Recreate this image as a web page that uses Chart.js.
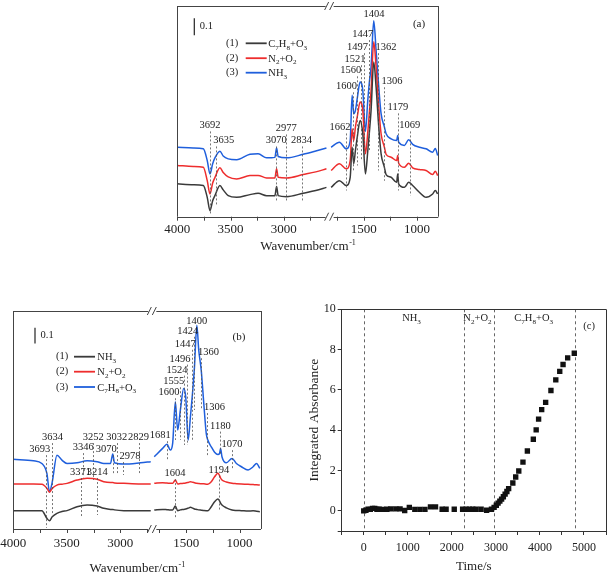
<!DOCTYPE html>
<html>
<head>
<meta charset="utf-8">
<script src="https://cdn.jsdelivr.net/npm/chart.js@4.4.0/dist/chart.umd.min.js"></script>
<style>
  body { margin: 0; background: #fff; width: 610px; height: 575px; position: relative; overflow: hidden; }
  canvas { position: absolute; }
</style>
</head>
<body>
<!-- each spectrum panel = two charts on top of each other, one per side of the axis break -->
<canvas id="chartA1" width="330" height="262" style="left:130px;top:0px"></canvas>
<canvas id="chartA2" width="330" height="262" style="left:130px;top:0px"></canvas>
<canvas id="chartB1" width="275" height="275" style="left:0px;top:300px"></canvas>
<canvas id="chartB2" width="275" height="275" style="left:0px;top:300px"></canvas>
<canvas id="chartC" width="325" height="275" style="left:285px;top:300px"></canvas>
<script>
// ---------- panel (a): spectra, broken wavenumber axis ----------
const aWnLeft  = [4000, 3850, 3756, 3719, 3693, 3668, 3647, 3600, 3569, 3522, 3443, 3318, 3241, 3162, 3084, 3068, 3053, 2974, 2819, 2700, 2600];
const aBlackLeft = [0.195, 0.190, 0.185, 0.115, 0.036, 0.095, 0.125, 0.185, 0.159, 0.125, 0.115, 0.131, 0.139, 0.125, 0.125, 0.179, 0.125, 0.119, 0.139, 0.155, 0.174];
const aRedLeft   = [0.304, 0.298, 0.293, 0.214, 0.135, 0.200, 0.232, 0.290, 0.262, 0.236, 0.224, 0.244, 0.245, 0.230, 0.230, 0.284, 0.234, 0.230, 0.250, 0.266, 0.284];
const aBlueLeft  = [0.412, 0.408, 0.403, 0.333, 0.254, 0.314, 0.349, 0.389, 0.360, 0.343, 0.338, 0.370, 0.373, 0.349, 0.352, 0.408, 0.357, 0.349, 0.370, 0.390, 0.408];

const aWnRight = [1806, 1728, 1665, 1627, 1609, 1594, 1578, 1559, 1534, 1509, 1484, 1462, 1447, 1431, 1406, 1384,
                  1359, 1337, 1306, 1290, 1243, 1191, 1181, 1172, 1118, 1078, 1041, 978, 915, 853, 828, 806];
const aBlackRight = [0.174, 0.214, 0.185, 0.234, 0.412, 0.314, 0.393, 0.480, 0.571, 0.492, 0.254, 0.390, 0.500, 0.631, 0.918, 0.770,
                     0.532, 0.373, 0.293, 0.250, 0.234, 0.204, 0.254, 0.195, 0.174, 0.204, 0.185, 0.145, 0.115, 0.135, 0.155, 0.135];
const aRedRight   = [0.274, 0.314, 0.284, 0.333, 0.522, 0.452, 0.532, 0.600, 0.680, 0.631, 0.373, 0.500, 0.620, 0.750, 1.038, 0.889,
                     0.651, 0.492, 0.412, 0.370, 0.353, 0.333, 0.363, 0.317, 0.293, 0.317, 0.290, 0.280, 0.274, 0.250, 0.270, 0.244];
const aBlueRight  = [0.412, 0.442, 0.403, 0.452, 0.720, 0.611, 0.631, 0.710, 0.799, 0.750, 0.506, 0.690, 0.799, 0.889, 1.162, 0.988,
                     0.770, 0.611, 0.532, 0.492, 0.462, 0.452, 0.482, 0.442, 0.423, 0.457, 0.429, 0.412, 0.403, 0.383, 0.405, 0.363];

// [wavenumber label, dashed line top, dashed line bottom (absorbance units), label side]
const aPeaks = [
  [3692, 0.506, 0.018, 'c'], [3635, 0.417, 0.065, 'l'], [3070, 0.417, 0.095, 'c'],
  [2977, 0.488, 0.095, 'c'], [2834, 0.417, 0.095, 'c'], [1662, 0.494, 0.155, 'r'],
  [1600, 0.738, 0.274, 'r'], [1560, 0.833, 0.304, 'r'], [1521, 0.899, 0.333, 'r'],
  [1497, 0.970, 0.333, 'r'], [1447, 1.048, 0.393, 'r'], [1404, 1.167, 1.167, 'c'],
  [1362, 0.970, 0.274, 'l'], [1306, 0.768, 0.214, 'l'], [1179, 0.613, 0.155, 'c'],
  [1069, 0.506, 0.125, 'c']
];
const aNames = ['C7H8+O3', 'N2+O2', 'NH3'];

// ---------- panel (b) ----------
const bWnLeft = [4000, 3812, 3733, 3686, 3662, 3636, 3592, 3545, 3498, 3404, 3310, 3216, 3154, 3091, 3070, 3054, 2966, 2809, 2715];
const bBlackLeft = [0.117, 0.117, 0.117, 0.068, 0.053, 0.078, 0.100, 0.112, 0.117, 0.142, 0.153, 0.146, 0.132, 0.125, 0.125, 0.122, 0.117, 0.117, 0.117];
const bRedLeft   = [0.287, 0.287, 0.285, 0.260, 0.235, 0.259, 0.280, 0.286, 0.291, 0.312, 0.323, 0.317, 0.301, 0.296, 0.296, 0.294, 0.291, 0.287, 0.287];
const bBlueLeft  = [0.444, 0.435, 0.418, 0.355, 0.238, 0.299, 0.471, 0.439, 0.418, 0.422, 0.435, 0.429, 0.418, 0.418, 0.478, 0.422, 0.414, 0.422, 0.429];

const bWnRight = [1798, 1720, 1679, 1648, 1626, 1601, 1579, 1554, 1523, 1504, 1481, 1460, 1438, 1422, 1400, 1382, 1359,
                  1335, 1312, 1297, 1265, 1234, 1203, 1187, 1178, 1165, 1124, 1071, 1030, 983, 921, 874, 842, 811];
const bBlackRight = [0.121, 0.125, 0.123, 0.121, 0.121, 0.146, 0.117, 0.122, 0.125, 0.128, 0.133, 0.138, 0.133, 0.128, 0.125, 0.122, 0.120,
                     0.118, 0.117, 0.117, 0.142, 0.174, 0.191, 0.178, 0.165, 0.153, 0.135, 0.121, 0.118, 0.117, 0.115, 0.116, 0.113, 0.110];
const bRedRight   = [0.291, 0.295, 0.293, 0.291, 0.291, 0.312, 0.287, 0.290, 0.291, 0.293, 0.297, 0.301, 0.298, 0.295, 0.291, 0.290, 0.289,
                     0.288, 0.286, 0.285, 0.301, 0.333, 0.355, 0.340, 0.325, 0.312, 0.300, 0.291, 0.289, 0.287, 0.285, 0.283, 0.282, 0.280];
const bBlueRight  = [0.461, 0.514, 0.541, 0.503, 0.546, 0.811, 0.631, 0.758, 0.896, 0.843, 0.567, 0.715, 0.885, 1.034, 1.299, 1.140, 1.013,
                     0.801, 0.610, 0.567, 0.524, 0.490, 0.475, 0.482, 0.514, 0.461, 0.422, 0.450, 0.418, 0.397, 0.376, 0.397, 0.418, 0.387];

const bPeaks = [
  [3693, 0.471, 0.006, 'r'], [3634, 0.548, 0.089, 'c'], [3346, 0.484, 0.330, 'c'],
  [3252, 0.548, 0.312, 'c'], [3070, 0.471, 0.344, 'r'], [3032, 0.548, 0.344, 'c'],
  [2978, 0.427, 0.344, 'l'], [2829, 0.548, 0.344, 'c'], [3371, 0.325, 0.070, 'c'],
  [3214, 0.325, 0.089, 'c'], [1681, 0.560, 0.440, 'r'], [1600, 0.834, 0.567, 'r'],
  [1555, 0.904, 0.567, 'r'], [1524, 0.978, 0.535, 'r'], [1496, 1.048, 0.535, 'r'],
  [1447, 1.143, 0.567, 'r'], [1424, 1.226, 0.758, 'r'], [1400, 1.290, 1.290, 'c'],
  [1360, 1.089, 0.758, 'l'], [1306, 0.739, 0.471, 'l'], [1180, 0.621, 0.471, 'c'],
  [1070, 0.503, 0.376, 'c'], [1604, 0.318, 0.070, 'c'], [1194, 0.341, 0.121, 'c']
];
const bNames = ['NH3', 'N2+O2', 'C7H8+O3'];

// wavenumber axis ticks (both spectrum panels)
const wnTickLabels = [4000, 3500, 3000, 1500, 1000];
const wnMinorTicks = [3750, 3250, 2750, 1750, 1250];

// ---------- panel (c): integrated absorbance vs time ----------
const cTime = [0, 50, 100, 150, 200, 250, 300, 350, 430, 525, 615, 730, 825, 930, 1035, 1160, 1275, 1390, 1515, 1630,
               1780, 1870, 2055, 2245, 2325, 2400, 2475, 2550, 2665, 2790, 2900, 2960, 3010, 3050, 3090, 3130, 3170,
               3210, 3250, 3290, 3385, 3450, 3520, 3615, 3715, 3850, 3915, 3970, 4040, 4130, 4250, 4360, 4450, 4525, 4630, 4780];
const cAbs = [0.00, 0.03, 0.08, 0.07, 0.12, 0.12, 0.08, 0.08, 0.07, 0.08, 0.10, 0.10, 0.10, 0.02, 0.17, 0.07, 0.07, 0.07, 0.20, 0.20,
              0.08, 0.08, 0.08, 0.08, 0.08, 0.08, 0.08, 0.08, 0.08, 0.03, 0.08, 0.17, 0.28, 0.38, 0.48, 0.58, 0.70,
              0.83, 0.96, 1.10, 1.38, 1.68, 1.98, 2.42, 2.97, 3.55, 4.02, 4.55, 5.02, 5.38, 5.97, 6.50, 6.92, 7.26, 7.59, 7.82];
const cStageEdges = [0, 2270, 2950, 4800];
const cStageNames = ['NH3', 'N2+O2', 'C7H8+O3'];
const cStageLabelX = [1085, 2582, 3858];

const FONT = '"Liberation Serif", "Times New Roman", serif';
const BLACK = '#3a3a3a', RED = '#ee2d2d', BLUE = '#1f5fdc';

const crisp = v => Math.round(v) + 0.5;

// draw a formula like C7H8+O3 with the digits as subscripts
function drawChem(ctx, text, x, baseline, size, align) {
  const big = `${size}px ${FONT}`, small = `${size * 0.68}px ${FONT}`;
  const parts = [...text].map((ch, i) => ({ ch, sub: /\d/.test(ch) && i > 0 && /[A-Za-z]/.test(text[i - 1]) }));
  let w = 0;
  parts.forEach(p => { ctx.font = p.sub ? small : big; w += ctx.measureText(p.ch).width; });
  let cx = align === 'center' ? x - w / 2 : align === 'right' ? x - w : x;
  ctx.textAlign = 'left';
  ctx.textBaseline = 'alphabetic';
  parts.forEach(p => {
    ctx.font = p.sub ? small : big;
    ctx.fillText(p.ch, cx, baseline + (p.sub ? size * 0.25 : 0));
    cx += ctx.measureText(p.ch).width;
  });
}

function drawWavenumberTitle(ctx, cx, cy, size) {
  const base = 'Wavenumber/cm', sup = '-1';
  ctx.font = `${size}px ${FONT}`;
  const wb = ctx.measureText(base).width;
  ctx.font = `${size * 0.62}px ${FONT}`;
  const ws = ctx.measureText(sup).width;
  const x = cx - (wb + ws) / 2, by = cy + size * 0.33;
  ctx.textAlign = 'left';
  ctx.textBaseline = 'alphabetic';
  ctx.fillStyle = '#222';
  ctx.font = `${size}px ${FONT}`;
  ctx.fillText(base, x, by);
  ctx.font = `${size * 0.62}px ${FONT}`;
  ctx.fillText(sup, x + wb + 0.5, by - size * 0.42);
}

function toPoints(xs, ys) {
  return xs.map((x, i) => ({ x, y: ys[i] }));
}

// frame pieces, ticks, break marks, peak markers, legend and titles of one side of a spectrum panel
function makeDecor(cfg, side) {
  const isLeft = side === 'left';
  return {
    id: 'decor',
    afterDatasetsDraw(chart) {
      const { ctx, scales: { x, y } } = chart;
      ctx.save();
      ctx.strokeStyle = '#555';
      ctx.lineWidth = 0.8;
      ctx.fillStyle = '#222';
      ctx.font = `10.5px ${FONT}`;
      ctx.textBaseline = 'alphabetic';
      cfg.peaks.filter(p => (p[0] > cfg.rightRange[1]) === isLeft).forEach(([wn, top, bottom, align]) => {
        const px = x.getPixelForValue(wn);
        const yt = y.getPixelForValue(top), yb = y.getPixelForValue(bottom);
        if (yb - yt > 1) {
          ctx.setLineDash([2, 2]);
          ctx.beginPath();
          ctx.moveTo(crisp(px), yt);
          ctx.lineTo(crisp(px), yb);
          ctx.stroke();
        }
        ctx.textAlign = align === 'r' ? 'right' : align === 'l' ? 'left' : 'center';
        const tx = align === 'r' ? px + 4 : align === 'l' ? px - 3 : px;
        ctx.fillText(String(wn), tx, yt - 3);
      });
      ctx.restore();
    },
    afterDraw(chart) {
      const { ctx, chartArea: a, scales: { x, y } } = chart;
      const L = cfg.legend;
      ctx.save();
      ctx.strokeStyle = '#444';
      ctx.lineWidth = 1;
      ctx.beginPath();
      if (isLeft) {
        ctx.moveTo(crisp(a.left), a.top); ctx.lineTo(crisp(a.left), a.bottom);
        [a.top, a.bottom].forEach(yy => { ctx.moveTo(a.left, crisp(yy)); ctx.lineTo(a.right - 4, crisp(yy)); });
      } else {
        ctx.moveTo(crisp(a.right), a.top); ctx.lineTo(crisp(a.right), a.bottom);
        [a.top, a.bottom].forEach(yy => { ctx.moveTo(a.left + 4, crisp(yy)); ctx.lineTo(a.right, crisp(yy)); });
      }
      // tick marks on the wavenumber axis
      const inRange = v => v >= x.min && v <= x.max;
      wnTickLabels.concat(wnMinorTicks).filter(inRange).forEach(v => {
        const px = crisp(x.getPixelForValue(v));
        ctx.moveTo(px, a.bottom);
        ctx.lineTo(px, a.bottom + 4);
      });
      ctx.stroke();
      ctx.fillStyle = '#222';
      ctx.font = `13px ${FONT}`;
      ctx.textAlign = 'center';
      ctx.textBaseline = 'middle';
      wnTickLabels.filter(inRange).forEach(v => {
        ctx.fillText(String(v), x.getPixelForValue(v), a.bottom + 4 + cfg.tickPad + 7.8);
      });

      if (!isLeft) {
        // break marks "//" on the top and bottom edges
        const bx = a.left;
        ctx.beginPath();
        [a.top, a.bottom].forEach(yy => {
          [-3, 2].forEach(d => {
            ctx.moveTo(bx + d - 2, yy + 4);
            ctx.lineTo(bx + d + 2, yy - 4);
          });
        });
        ctx.stroke();
        ctx.font = `11px ${FONT}`;
        ctx.fillText(cfg.letter, L.letterX, L.letterY);
        ctx.restore();
        return;
      }

      // legend
      cfg.curves.forEach((c, i) => {
        const cy = L.rows[i];
        ctx.fillStyle = '#222';
        ctx.font = `10.5px ${FONT}`;
        ctx.textAlign = 'center';
        ctx.textBaseline = 'middle';
        ctx.fillText(`(${i + 1})`, L.tagX, cy);
        ctx.strokeStyle = c.color;
        ctx.lineWidth = 1.8;
        ctx.beginPath();
        ctx.moveTo(L.line0, cy);
        ctx.lineTo(L.line1, cy);
        ctx.stroke();
        ctx.fillStyle = '#222';
        drawChem(ctx, c.name, L.textX, cy + 3.6, 10.5, 'left');
      });

      // 0.1 absorbance scale bar
      const barLen = y.getPixelForValue(0) - y.getPixelForValue(0.1);
      ctx.strokeStyle = '#222';
      ctx.lineWidth = 1.2;
      ctx.beginPath();
      ctx.moveTo(L.barX, L.barTop);
      ctx.lineTo(L.barX, L.barTop + barLen);
      ctx.stroke();
      ctx.fillStyle = '#222';
      ctx.font = `10.5px ${FONT}`;
      ctx.textAlign = 'left';
      ctx.textBaseline = 'middle';
      ctx.fillText('0.1', L.barX + 5.5, L.barTop + barLen / 2);

      drawWavenumberTitle(ctx, (cfg.area.left + cfg.area.right) / 2, cfg.titleY, 13);
      ctx.restore();
    }
  };
}

function spectrumPanel(ids, cfg) {
  const wL = cfg.leftRange[1] - cfg.leftRange[0];
  const wR = cfg.rightRange[1] - cfg.rightRange[0];
  const breakX = cfg.area.left + (cfg.area.right - cfg.area.left) * wL / (wL + wR);
  const sides = [
    { side: 'left', range: cfg.leftRange, wn: cfg.wnLeft, pad: { left: cfg.area.left, right: cfg.width - breakX } },
    { side: 'right', range: cfg.rightRange, wn: cfg.wnRight, pad: { left: breakX, right: cfg.width - cfg.area.right } }
  ];
  sides.forEach((s, k) => {
    const datasets = cfg.curves.map(c => ({
      data: toPoints(s.wn, c[s.side]),
      borderColor: c.color,
      borderWidth: 1.5,
      pointRadius: 0,
      cubicInterpolationMode: 'monotone'
    }));
    new Chart(document.getElementById(ids[k]), {
      type: 'line',
      data: { datasets },
      options: {
        responsive: false,
        animation: false,
        events: [],
        layout: { padding: { left: s.pad.left, right: s.pad.right, top: cfg.area.top, bottom: 0 } },
        plugins: { legend: { display: false }, tooltip: { enabled: false } },
        scales: {
          x: {
            type: 'linear',
            min: s.range[0],
            max: s.range[1],
            reverse: true,
            border: { display: false },
            grid: { display: false },
            ticks: { display: false },
            afterFit: sc => { sc.height = cfg.height - cfg.area.bottom; sc.paddingLeft = 0; sc.paddingRight = 0; }
          },
          y: { display: false, min: 0, max: cfg.yMax }
        }
      },
      plugins: [makeDecor(cfg, s.side)]
    });
  });
}

spectrumPanel(['chartA1', 'chartA2'], {
  width: 330, height: 262,
  area: { left: 47.3, right: 308.3, top: 6, bottom: 216.7 },
  wnLeft: aWnLeft, wnRight: aWnRight,
  leftRange: [2570, 4000], rightRange: [800, 1820],
  yMax: 1.25,
  curves: [
    { name: aNames[0], color: BLACK, left: aBlackLeft, right: aBlackRight },
    { name: aNames[1], color: RED, left: aRedLeft, right: aRedRight },
    { name: aNames[2], color: BLUE, left: aBlueLeft, right: aBlueRight }
  ],
  peaks: aPeaks,
  tickPad: 1,
  titleY: 246,
  letter: '(a)',
  legend: { tagX: 102, line0: 115.7, line1: 136.7, textX: 138.3, rows: [43.3, 58.2, 72.7],
            barX: 64.3, barTop: 18.3, letterX: 289, letterY: 24 }
});

spectrumPanel(['chartB1', 'chartB2'], {
  width: 275, height: 275,
  area: { left: 13.3, right: 261, top: 11, bottom: 229 },
  wnLeft: bWnLeft, wnRight: bWnRight,
  leftRange: [2700, 4000], rightRange: [800, 1816],
  yMax: 1.39,
  curves: [
    { name: bNames[0], color: BLACK, left: bBlackLeft, right: bBlackRight },
    { name: bNames[1], color: RED, left: bRedLeft, right: bRedRight },
    { name: bNames[2], color: BLUE, left: bBlueLeft, right: bBlueRight }
  ],
  peaks: bPeaks,
  tickPad: 3,
  titleY: 268,
  letter: '(b)',
  legend: { tagX: 62, line0: 74, line1: 95, textX: 97.3, rows: [56.7, 71.7, 87],
            barX: 35, barTop: 27.7, letterX: 239, letterY: 36.7 }
});

// stage boundaries and labels for panel (c)
const stagePlugin = {
  id: 'stages',
  beforeDatasetsDraw(chart) {
    const { ctx, chartArea: a, scales: { x } } = chart;
    ctx.save();
    ctx.strokeStyle = '#666';
    ctx.lineWidth = 1;
    ctx.setLineDash([3, 3]);
    cStageEdges.forEach(t => {
      const px = crisp(x.getPixelForValue(t));
      ctx.beginPath();
      ctx.moveTo(px, a.top);
      ctx.lineTo(px, a.bottom);
      ctx.stroke();
    });
    ctx.restore();
  },
  afterDraw(chart) {
    const { ctx, chartArea: a, scales: { x, y } } = chart;
    ctx.save();
    ctx.strokeStyle = '#333';
    ctx.lineWidth = 1;
    ctx.beginPath();
    ctx.moveTo(a.left, crisp(a.top));
    ctx.lineTo(a.right, crisp(a.top));
    ctx.moveTo(crisp(a.right), a.top);
    ctx.lineTo(crisp(a.right), a.bottom);
    ctx.stroke();
    ctx.fillStyle = '#222';
    cStageNames.forEach((n, i) => {
      drawChem(ctx, n, x.getPixelForValue(cStageLabelX[i]), y.getPixelForValue(9.59) + 3.6, 10.5, 'center');
    });
    ctx.font = `10.5px ${FONT}`;
    ctx.textAlign = 'center';
    ctx.textBaseline = 'middle';
    ctx.fillText('(c)', x.getPixelForValue(5118), y.getPixelForValue(9.17));
    ctx.restore();
  }
};

new Chart(document.getElementById('chartC'), {
  type: 'scatter',
  data: {
    datasets: [{
      data: toPoints(cTime, cAbs),
      pointStyle: 'rect',
      pointRadius: 3.8,
      backgroundColor: '#111',
      borderWidth: 0
    }]
  },
  options: {
    responsive: false,
    animation: false,
    events: [],
    layout: { padding: { left: 21, top: 9.3, right: 1.7, bottom: 0 } },
    plugins: { legend: { display: false }, tooltip: { enabled: false } },
    scales: {
      x: {
        type: 'linear',
        min: -500,
        max: 5500,
        border: { color: '#333' },
        grid: { drawOnChartArea: false, tickLength: 4, color: '#333' },
        ticks: {
          stepSize: 500,
          autoSkip: false,
          maxRotation: 0,
          padding: 5.5,
          color: '#222',
          font: { family: FONT, size: 12 },
          callback: v => (v >= 0 && v % 1000 === 0 ? String(v) : '')
        },
        title: { display: true, text: 'Time/s', color: '#222', font: { family: FONT, size: 13 }, padding: { top: 0, bottom: 1 } },
        afterFit: s => { s.height = 44; s.paddingLeft = 0; s.paddingRight = 0; }
      },
      y: {
        min: -1,
        max: 10,
        border: { color: '#333' },
        grid: { drawOnChartArea: false, tickLength: 4, color: '#333' },
        ticks: {
          stepSize: 2,
          padding: 2,
          color: '#222',
          font: { family: FONT, size: 12 },
          callback: v => (v < 0 ? '' : String(v))
        },
        title: { display: true, text: 'Integrated Absorbance', color: '#222', font: { family: FONT, size: 13.5 }, padding: { top: 0, bottom: 0 } },
        afterFit: s => { s.width = 35.7; s.paddingTop = 0; s.paddingBottom = 0; }
      }
    }
  },
  plugins: [stagePlugin]
});
</script>
</body>
</html>
